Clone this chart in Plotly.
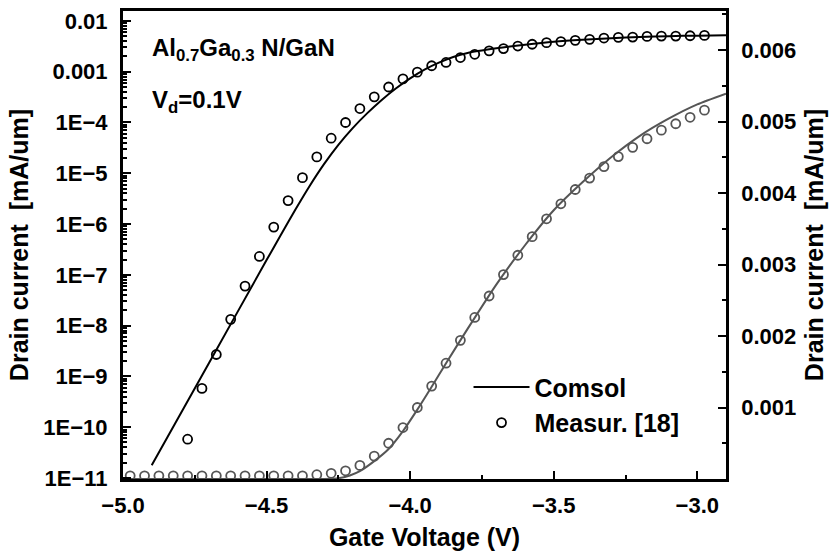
import plotly.graph_objects as go

# ---------------- data ----------------
# Measured (log scale, left axis)
meas_v_log = [-4.775, -4.725, -4.675, -4.625, -4.575, -4.525, -4.475, -4.425, -4.375, -4.325,
              -4.275, -4.225, -4.175, -4.125, -4.075, -4.025, -3.975, -3.925, -3.875, -3.825,
              -3.775, -3.725, -3.675, -3.625, -3.575, -3.525, -3.475, -3.425, -3.375, -3.325,
              -3.275, -3.225, -3.175, -3.125, -3.075, -3.025, -2.975]
meas_i_log = [5.8e-11, 5.8e-10, 2.7e-9, 1.33e-8, 6.0e-8, 2.3e-7, 8.7e-7, 2.9e-6, 8.2e-6, 2.1e-5,
              4.9e-5, 1.0e-4, 1.88e-4, 3.2e-4, 5.0e-4, 7.2e-4, 9.8e-4, 1.31e-3, 1.52e-3, 1.9e-3,
              2.2e-3, 2.57e-3, 2.85e-3, 3.2e-3, 3.47e-3, 3.73e-3, 3.9e-3, 4.14e-3, 4.33e-3, 4.6e-3,
              4.74e-3, 4.8e-3, 4.95e-3, 5.03e-3, 5.03e-3, 5.1e-3, 5.18e-3]

# Comsol (log scale, left axis)
sim_v_log = [-4.90, -4.70, -4.50, -4.45, -4.40, -4.35, -4.30, -4.25, -4.20, -4.15, -4.10, -4.05,
             -4.00, -3.95, -3.90, -3.85, -3.80, -3.70, -3.60, -3.50, -3.40, -3.30, -3.20, -3.10,
             -3.00, -2.90]
sim_i_log = [1.78e-11, 1.86e-9, 1.95e-7, 6.17e-7, 1.91e-6, 5.62e-6, 1.51e-5, 3.63e-5, 7.76e-5, 1.51e-4,
             2.75e-4, 4.68e-4, 7.41e-4, 1.10e-3, 1.51e-3, 1.95e-3, 2.34e-3, 2.88e-3, 3.39e-3, 3.89e-3,
             4.27e-3, 4.57e-3, 4.84e-3, 5.01e-3, 5.13e-3, 5.19e-3]

# Measured (linear scale, right axis)
meas_v_lin = [-4.975, -4.925, -4.875, -4.825, -4.775, -4.725, -4.675, -4.625, -4.575, -4.525,
              -4.475, -4.425, -4.375, -4.325, -4.275, -4.225, -4.175, -4.125, -4.075, -4.025,
              -3.975, -3.925, -3.875, -3.825, -3.775, -3.725, -3.675, -3.625, -3.575, -3.525,
              -3.475, -3.425, -3.375, -3.325, -3.275, -3.225, -3.175, -3.125, -3.075, -3.025,
              -2.975]
meas_i_lin = [4.5e-5, 4.5e-5, 4.5e-5, 4.5e-5, 4.5e-5, 4.5e-5, 4.5e-5, 4.5e-5, 4.5e-5, 4.5e-5,
              4.5e-5, 4.5e-5, 4.5e-5, 6e-5, 8e-5, 1.15e-4, 1.9e-4, 3.2e-4, 5.0e-4, 7.2e-4,
              1.0e-3, 1.30e-3, 1.62e-3, 1.94e-3, 2.26e-3, 2.56e-3, 2.86e-3, 3.13e-3, 3.39e-3, 3.64e-3,
              3.85e-3, 4.05e-3, 4.21e-3, 4.37e-3, 4.51e-3, 4.64e-3, 4.76e-3, 4.88e-3, 4.97e-3, 5.06e-3,
              5.16e-3]

# Comsol (linear scale, right axis)
sim_v_lin = [-5.0, -4.30, -4.25, -4.21, -4.175, -4.125, -4.075, -4.025, -3.975, -3.925, -3.875,
             -3.80, -3.70, -3.60, -3.50, -3.40, -3.30, -3.20, -3.10, -3.00, -2.90]
sim_i_lin = [0.0, 0.0, 1e-5, 5e-5, 1.1e-4, 2.5e-4, 4.2e-4, 6.7e-4, 9.7e-4, 1.29e-3, 1.62e-3,
             2.1e-3, 2.72e-3, 3.27e-3, 3.76e-3, 4.15e-3, 4.5e-3, 4.8e-3, 5.04e-3, 5.24e-3, 5.39e-3]

x_ticks = [-5.0, -4.5, -4.0, -3.5, -3.0]
x_ticktext = ["\u22125.0", "\u22124.5", "\u22124.0", "\u22123.5", "\u22123.0"]
ylog_ticks = [1e-11, 1e-10, 1e-9, 1e-8, 1e-7, 1e-6, 1e-5, 1e-4, 1e-3, 1e-2]
ylog_ticktext = ["1E\u221211", "1E\u221210", "1E\u22129", "1E\u22128", "1E\u22127",
                 "1E\u22126", "1E\u22125", "1E\u22124", "0.001", "0.01"]
ylin_ticks = [0.001, 0.002, 0.003, 0.004, 0.005, 0.006]
ylin_ticktext = ["0.001", "0.002", "0.003", "0.004", "0.005", "0.006"]

FONT = "Liberation Sans, Arial, sans-serif"
BLACK = "#000000"
GRAY = "#555555"

fig = go.Figure()

fig.add_trace(go.Scatter(x=sim_v_lin, y=sim_i_lin, mode="lines", yaxis="y2",
                         line=dict(color=GRAY, width=2, shape="spline", smoothing=0.6),
                         showlegend=False))
fig.add_trace(go.Scatter(x=meas_v_lin, y=meas_i_lin, mode="markers", yaxis="y2",
                         marker=dict(symbol="circle-open", size=9, color=GRAY, line=dict(width=1.8, color=GRAY)),
                         showlegend=False, cliponaxis=False))
fig.add_trace(go.Scatter(x=sim_v_log, y=sim_i_log, mode="lines", name="Comsol",
                         line=dict(color=BLACK, width=2, shape="spline", smoothing=0.6)))
fig.add_trace(go.Scatter(x=meas_v_log, y=meas_i_log, mode="markers", name="Measur. [18]",
                         marker=dict(symbol="circle-open", size=9, color=BLACK, line=dict(width=1.8, color=BLACK))))

tickfont = dict(family=FONT, size=22, color=BLACK, weight="bold")
titlefont = dict(family=FONT, size=25, color=BLACK, weight="bold")

fig.update_layout(
    width=834, height=556,
    margin=dict(l=123, r=108, t=8, b=74),
    paper_bgcolor="white", plot_bgcolor="white",
    font=dict(family=FONT, color=BLACK),
    xaxis=dict(range=[-5.0, -2.9], tickvals=x_ticks, ticktext=x_ticktext,
               ticks="inside", ticklen=8, tickwidth=2, tickcolor=BLACK,
               minor=dict(ticks="inside", ticklen=4, tickwidth=2, tickcolor=BLACK, dtick=0.25),
               showline=True, linewidth=3, linecolor=BLACK, mirror=True,
               showgrid=False, zeroline=False, tickfont=tickfont, ticklabelstandoff=5,
               title=dict(text="Gate Voltage (V)", font=titlefont, standoff=12)),
    yaxis=dict(type="log", range=[-11.02, -1.805], tickvals=ylog_ticks, ticktext=ylog_ticktext,
               ticks="inside", ticklen=8, tickwidth=2, tickcolor=BLACK,
               minor=dict(ticks="inside", ticklen=4, tickwidth=1.5, tickcolor=BLACK, dtick="D1"),
               showline=True, linewidth=3, linecolor=BLACK,
               showgrid=False, zeroline=False, tickfont=tickfont, ticklabelstandoff=8,
               title=dict(text="Drain current\u00a0 [mA/um]", font=titlefont, standoff=8)),
    yaxis2=dict(overlaying="y", side="right", range=[0, 0.006547], tickvals=ylin_ticks, ticktext=ylin_ticktext,
                ticks="inside", ticklen=8, tickwidth=2, tickcolor=BLACK,
                minor=dict(ticks="inside", ticklen=4, tickwidth=2, tickcolor=BLACK, dtick=0.0005),
                showline=True, linewidth=2.5, linecolor=BLACK,
                showgrid=False, zeroline=False, tickfont=tickfont, ticklabelstandoff=8,
                title=dict(text="Drain current\u00a0 [mA/um]", font=titlefont, standoff=10)),
    legend=dict(x=0.573, y=0.245, xanchor="left", yanchor="top", bgcolor="rgba(0,0,0,0)",
                font=dict(family=FONT, size=25, color=BLACK, weight="bold"),
                borderwidth=0, tracegroupgap=0, itemwidth=56),
    showlegend=True,
)

fig.add_annotation(x=0.045, y=0.918, xref="paper", yref="paper", xanchor="left", yanchor="middle",
                   text="Al<sub>0.7</sub>Ga<sub>0.3</sub> N/GaN", showarrow=False,
                   font=dict(family=FONT, size=24, color=BLACK, weight="bold"))
fig.add_annotation(x=0.045, y=0.806, xref="paper", yref="paper", xanchor="left", yanchor="middle",
                   text="V<sub>d</sub>=0.1V", showarrow=False,
                   font=dict(family=FONT, size=24, color=BLACK, weight="bold"))

fig.write_html("out.html")
